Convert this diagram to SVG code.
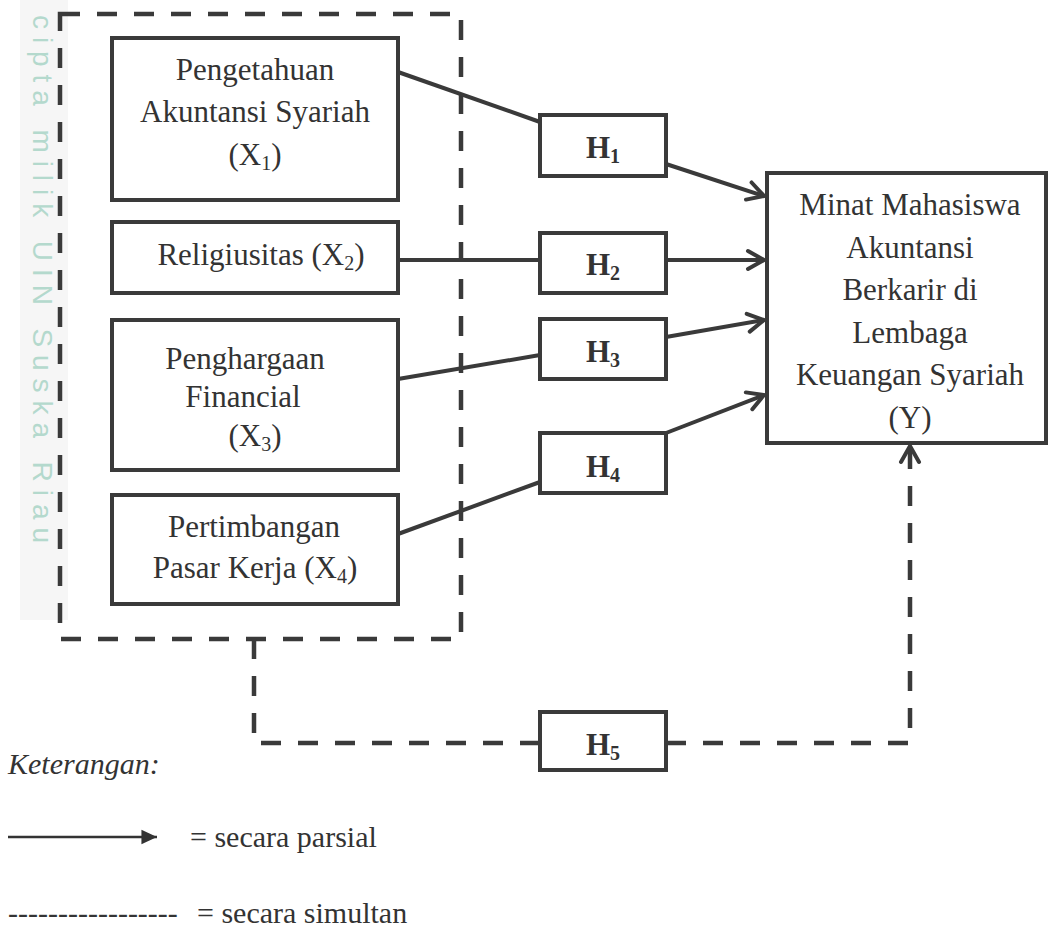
<svg xmlns="http://www.w3.org/2000/svg" width="1048" height="928" viewBox="0 0 1048 928">
<style>
  .box { fill: #ffffff; stroke: #3a3a3a; stroke-width: 4; }
  .t { font-family: "Liberation Serif", "Times New Roman", serif; font-size: 31px; fill: #333333; text-anchor: middle; }
  .h { font-family: "Liberation Serif", "Times New Roman", serif; font-size: 31px; font-weight: bold; fill: #333333; text-anchor: middle; }
  .lg { font-family: "Liberation Serif", "Times New Roman", serif; font-size: 30px; fill: #333333; }
  .sub { font-size: 20px; }
  .solid { fill: none; stroke: #3a3a3a; stroke-width: 4; }
  .dash { fill: none; stroke: #3a3a3a; stroke-width: 4.5; stroke-dasharray: 20 17; }
  .wm { font-family: "Liberation Sans", Arial, sans-serif; font-size: 28px; fill: #b4d9cd; }
</style>
<defs>
  <marker id="open" markerUnits="userSpaceOnUse" markerWidth="24" markerHeight="24" viewBox="-20 -12 24 24" refX="0" refY="0" orient="auto">
    <path d="M -16 -9 L 0 0 L -16 9" fill="none" stroke="#3a3a3a" stroke-width="4" stroke-linecap="round" stroke-linejoin="miter"/>
  </marker>
  <marker id="filled" markerUnits="userSpaceOnUse" markerWidth="20" markerHeight="20" viewBox="-16 -8 18 16" refX="0" refY="0" orient="auto">
    <path d="M -14 -6.5 L 0 0 L -14 6.5 Z" fill="#333333"/>
  </marker>
</defs>
<rect width="1048" height="928" fill="#ffffff"/>
<rect x="20" y="0" width="48" height="620" fill="#f6f6f6"/>
<text class="wm" transform="translate(33,15) rotate(90)" textLength="528" lengthAdjust="spacing">cipta milik UIN Suska Riau</text>

<g id="group-x">
  <rect x="60" y="14" width="401" height="625" class="dash"/>
</g>

<g id="connectors">
  <line x1="398" y1="72" x2="540" y2="122" class="solid"/>
  <line x1="666" y1="164" x2="764" y2="196" class="solid" marker-end="url(#open)"/>
  <line x1="398" y1="260" x2="540" y2="260" class="solid"/>
  <line x1="666" y1="260" x2="764" y2="260" class="solid" marker-end="url(#open)"/>
  <line x1="398" y1="379" x2="540" y2="355" class="solid"/>
  <line x1="666" y1="337" x2="764" y2="320" class="solid" marker-end="url(#open)"/>
  <line x1="398" y1="534" x2="540" y2="482" class="solid"/>
  <line x1="666" y1="433" x2="764" y2="395" class="solid" marker-end="url(#open)"/>
  <path d="M 254 639 V 743 H 540" class="dash"/>
  <path d="M 666 743 H 910 V 446" class="dash" marker-end="url(#open)"/>
</g>

<g id="x1">
  <rect x="112" y="38" width="286" height="162" class="box"/>
  <text class="t" x="255" y="80">Pengetahuan</text>
  <text class="t" x="255" y="122">Akuntansi Syariah</text>
  <text class="t" x="255" y="165">(X<tspan class="sub" dy="5">1</tspan><tspan dy="-5">)</tspan></text>
</g>
<g id="x2">
  <rect x="112" y="222" width="286" height="71" class="box"/>
  <text class="t" x="261" y="265">Religiusitas (X<tspan class="sub" dy="5">2</tspan><tspan dy="-5">)</tspan></text>
</g>
<g id="x3">
  <rect x="112" y="320" width="286" height="150" class="box"/>
  <text class="t" x="245" y="369">Penghargaan</text>
  <text class="t" x="243" y="407">Financial</text>
  <text class="t" x="255" y="446">(X<tspan class="sub" dy="5">3</tspan><tspan dy="-5">)</tspan></text>
</g>
<g id="x4">
  <rect x="112" y="495" width="286" height="109" class="box"/>
  <text class="t" x="254" y="537">Pertimbangan</text>
  <text class="t" x="255" y="578">Pasar Kerja (X<tspan class="sub" dy="5">4</tspan><tspan dy="-5">)</tspan></text>
</g>

<g id="h1">
  <rect x="540" y="115" width="126" height="61" class="box"/>
  <text class="h" x="603" y="158">H<tspan class="sub" dy="5">1</tspan></text>
</g>
<g id="h2">
  <rect x="540" y="233" width="126" height="60" class="box"/>
  <text class="h" x="603" y="275">H<tspan class="sub" dy="5">2</tspan></text>
</g>
<g id="h3">
  <rect x="540" y="319" width="126" height="60" class="box"/>
  <text class="h" x="603" y="362">H<tspan class="sub" dy="5">3</tspan></text>
</g>
<g id="h4">
  <rect x="540" y="433" width="126" height="60" class="box"/>
  <text class="h" x="603" y="477">H<tspan class="sub" dy="5">4</tspan></text>
</g>
<g id="h5">
  <rect x="540" y="712" width="126" height="58" class="box"/>
  <text class="h" x="603" y="755">H<tspan class="sub" dy="5">5</tspan></text>
</g>

<g id="y">
  <rect x="767" y="173" width="279" height="270" class="box"/>
  <text class="t" x="910" y="215">Minat Mahasiswa</text>
  <text class="t" x="910" y="258">Akuntansi</text>
  <text class="t" x="910" y="300">Berkarir di</text>
  <text class="t" x="910" y="343">Lembaga</text>
  <text class="t" x="910" y="385">Keuangan Syariah</text>
  <text class="t" x="910" y="428">(Y)</text>
</g>

<g id="legend">
  <text class="lg" x="8" y="774" font-style="italic">Keterangan:</text>
  <line x1="8" y1="837" x2="157" y2="837" stroke="#333333" stroke-width="2.5" marker-end="url(#filled)"/>
  <text class="lg" x="190" y="847">= secara parsial</text>
  <text class="lg" x="8" y="923">-----------------</text>
  <text class="lg" x="197" y="923">= secara simultan</text>
</g>
</svg>
